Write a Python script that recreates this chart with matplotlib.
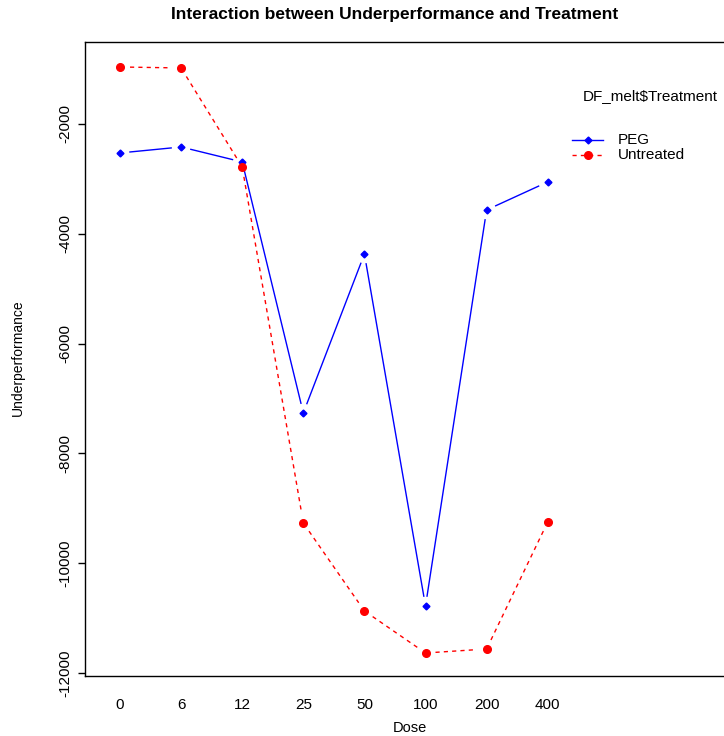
import matplotlib
matplotlib.use("Agg")
import matplotlib.pyplot as plt
from matplotlib.lines import Line2D
import numpy as np

plt.rcParams['font.family'] = ['Liberation Sans', 'DejaVu Sans']

doses = ["0", "6", "12", "25", "50", "100", "200", "400"]
peg = [-2528, -2419, -2692, -7264, -4368, -10780, -3566, -3056]
untreated = [-962, -980, -2783, -9268, -10870, -11636, -11563, -9250]
yticks = [-2000, -4000, -6000, -8000, -10000, -12000]

W, H = 724, 736
fig = plt.figure(figsize=(W / 100, H / 100), dpi=100)
L, R, T, B = 85, 1030, 42, 676
ax = fig.add_axes([L / W, 1 - B / H, (R - L) / W, (B - T) / H])
ax.set_xlim(0.427, 0.427 + (R - L) / 61.1)
ax.set_ylim(-12055, -507)

for s in ax.spines.values():
    s.set_linewidth(1.0)
    s.set_color("black")

x = np.arange(1, len(doses) + 1)
DASH = (0, (3, 3))


def gapped(xs, ys, color, ls, marker, ms, gap=10):
    fig.canvas.draw()
    pts = ax.transData.transform(np.column_stack([xs, ys]))
    inv = ax.transData.inverted()
    for i in range(len(pts) - 1):
        p0, p1 = pts[i], pts[i + 1]
        d = p1 - p0
        n = np.hypot(*d)
        if n <= 2 * gap:
            continue
        u = d / n
        a = inv.transform(p0 + u * gap)
        b = inv.transform(p1 - u * gap)
        ax.plot([a[0], b[0]], [a[1], b[1]], color=color, ls=ls, lw=1.0)
    ax.plot(xs, ys, ls="none", marker=marker, color=color, ms=ms, mec=color)


gapped(x, peg, "blue", "-", "D", 3.5)
gapped(x, untreated, "red", DASH, "o", 5.5)

ax.set_xticks(x)
ax.set_xticklabels(doses, fontsize=11)
ax.tick_params(axis="x", length=0, pad=16)
ax.set_yticks(yticks)
ax.set_yticklabels([str(v) for v in yticks], fontsize=11, rotation=90, va="center")
ax.tick_params(axis="y", length=5, width=1, pad=4)

fig.text(395 / W, 1 - 15 / H, "Interaction between Underperformance and Treatment",
         ha="center", va="center", fontsize=12.5, fontweight="bold")
fig.text(410 / W, 1 - 728 / H, "Dose", ha="center", va="center", fontsize=10.5)
fig.text(18 / W, 1 - 358 / H, "Underperformance", ha="center", va="center",
         fontsize=10, rotation=90)

# legend
fig.text(583 / W, 1 - 96 / H, "DF_melt$Treatment", ha="left", va="center", fontsize=11)
for yy, col, ls, mk, ms, lab in [(140, "blue", "-", "D", 3.5, "PEG"),
                                  (155, "red", DASH, "o", 5.5, "Untreated")]:
    fy = 1 - yy / H
    fig.add_artist(Line2D([572 / W, 603 / W], [fy, fy], color=col, ls=ls, lw=1.0,
                          transform=fig.transFigure))
    fig.add_artist(Line2D([588 / W], [fy], color=col, marker=mk, ms=ms, ls="none",
                          transform=fig.transFigure))
    fig.text(618 / W, fy, lab, ha="left", va="center", fontsize=11)

fig.savefig("out.png", dpi=100)
